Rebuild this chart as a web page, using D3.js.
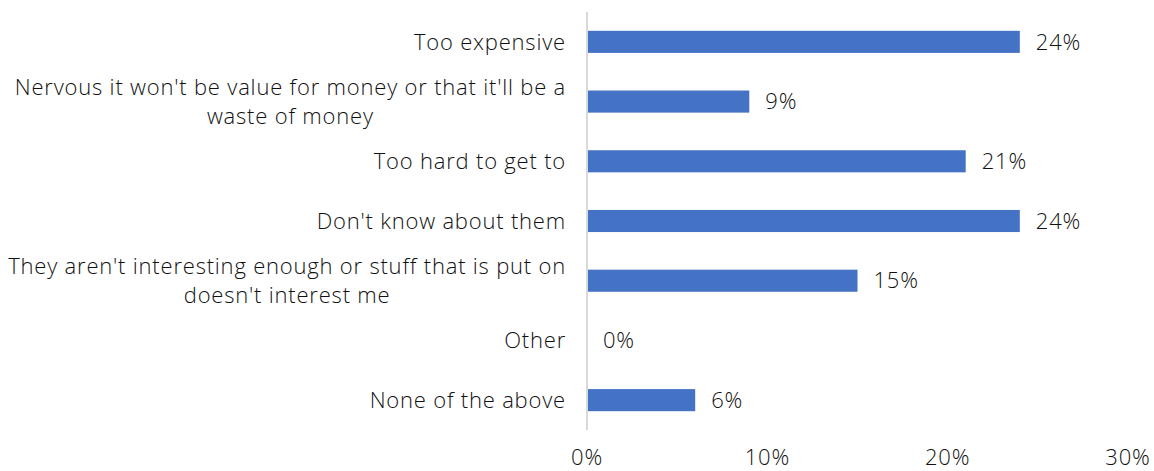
<!DOCTYPE html>
<html>
<head>
<meta charset="utf-8">
<script src="https://cdn.jsdelivr.net/npm/d3@7"></script>
<style>
  html, body { margin: 0; padding: 0; background: #fff; }
  svg text { font-family: "Open Sans", "Noto Sans", sans-serif; font-weight: 300; fill: #111; letter-spacing: 0.8px; }
</style>
</head>
<body>
<svg id="chart" width="1154" height="471"></svg>
<script>
// Reasons given, top to bottom, with the share of respondents choosing each
const categories = [
  ["Too expensive"],
  ["Nervous it won't be value for money or that it'll be a", "waste of money"],
  ["Too hard to get to"],
  ["Don't know about them"],
  ["They aren't interesting enough or stuff that is put on", "doesn't interest me"],
  ["Other"],
  ["None of the above"]
];
const values = [24, 9, 21, 24, 15, 0, 6];
const tickValues = [0, 10, 20, 30];

const svg = d3.select("#chart");
const plotLeft = 587, plotRight = 1128, plotTop = 12, plotBottom = 430;
const fontSize = 22;

const x = d3.scaleLinear().domain([0, 30]).range([plotLeft, plotRight]);
const y = d3.scaleBand().domain(d3.range(values.length)).range([plotTop, plotBottom]).paddingInner(0.63).paddingOuter(0.315);

// Bars
svg.append("g").selectAll("rect").data(values).join("rect")
  .attr("x", x(0))
  .attr("y", (d, i) => y(i))
  .attr("width", d => x(d) - x(0))
  .attr("height", y.bandwidth())
  .attr("fill", "#4472C4");

// Vertical baseline
svg.append("line")
  .attr("x1", plotLeft).attr("x2", plotLeft)
  .attr("y1", plotTop).attr("y2", plotBottom)
  .attr("stroke", "#d9d9d9").attr("stroke-width", 2);

// Value labels
svg.append("g").selectAll("text").data(values).join("text")
  .attr("x", d => x(d) + 16)
  .attr("y", (d, i) => y(i) + y.bandwidth() / 2)
  .attr("dy", "0.35em")
  .attr("font-size", fontSize)
  .text(d => d + "%");

// Category labels (one or two lines, right aligned)
const lineH = 29;
const cat = svg.append("g").selectAll("text").data(categories).join("text")
  .attr("text-anchor", "middle")
  .attr("font-size", fontSize)
  .attr("y", (d, i) => y(i) + y.bandwidth() / 2);
cat.each(function (lines) {
  const t = d3.select(this);
  lines.forEach((ln, j) => {
    t.append("tspan")
      .attr("dy", j === 0 ? ((-(lines.length - 1) / 2) * lineH / fontSize + 0.35) + "em" : lineH + "px")
      .text(ln);
  });
});
// Right-align each block while centring multi-line labels among themselves
cat.each(function () {
  const t = d3.select(this);
  const spans = t.selectAll("tspan").nodes();
  const widths = spans.map(s => s.getComputedTextLength());
  const maxW = d3.max(widths);
  const cx = 566 - maxW / 2;
  spans.forEach(s => d3.select(s).attr("x", cx));
});

// X axis tick labels
svg.append("g").selectAll("text").data(tickValues).join("text")
  .attr("x", d => x(d))
  .attr("y", 465)
  .attr("text-anchor", "middle")
  .attr("font-size", fontSize)
  .text(d => d + "%");
</script>
</body>
</html>
